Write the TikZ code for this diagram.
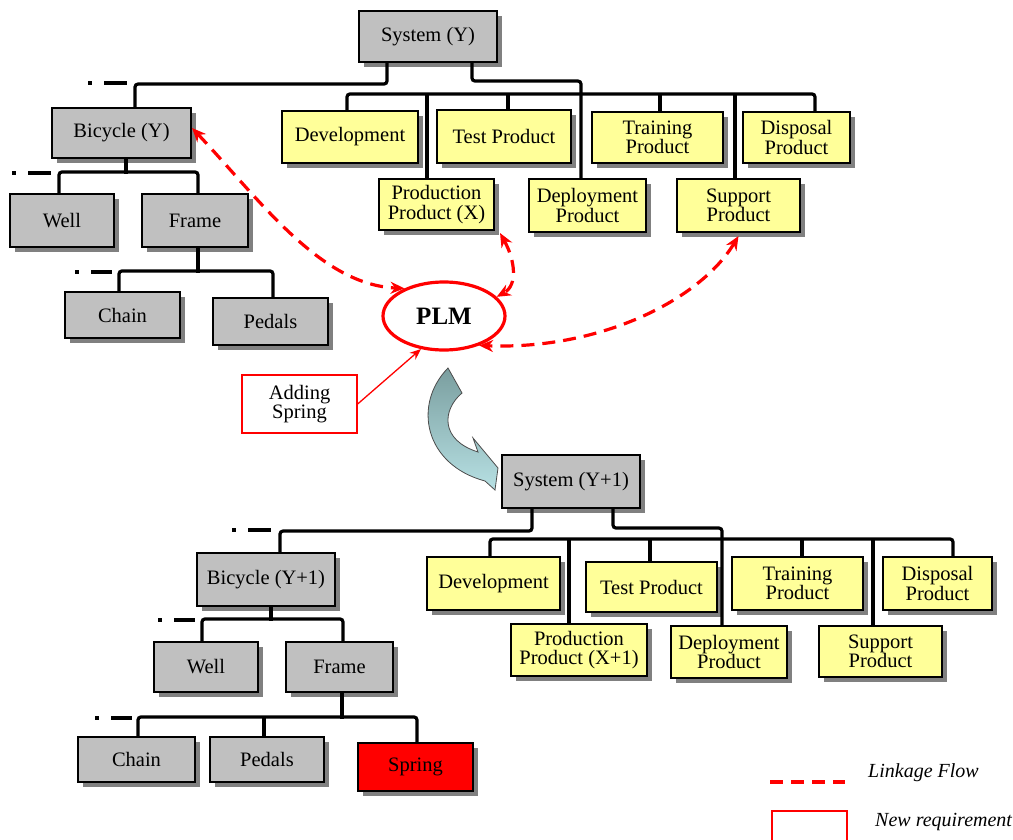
\documentclass[tikz,border=0pt]{standalone}
\usepackage{fontspec}
\setmainfont{Liberation Serif}
\usetikzlibrary{shapes.geometric,arrows.meta,shadows}
\definecolor{gfill}{HTML}{C0C0C0}
\definecolor{yfill}{HTML}{FFFF99}
\definecolor{arrdark}{HTML}{7A9E9F}
\definecolor{arrlight}{HTML}{B7E0E3}
\begin{document}
\begin{tikzpicture}[x=1pt,y=-1pt,
  wh/.style 2 args={minimum width=#1pt,minimum height=#2pt},
  base/.style={draw=black, line width=2.1pt, inner sep=0pt, align=center,
    font=\fontsize{20.5}{19.5}\selectfont,
    drop shadow={shadow xshift=5pt, shadow yshift=-5pt, fill=black!50, opacity=1}},
  gbox/.style={base, fill=gfill},
  ybox/.style={base, fill=yfill},
  rbox/.style={base, fill=red},
  conn/.style={line width=3.2pt, rounded corners=3pt},
  stub/.style={line width=3.2pt, dash pattern=on 4pt off 12pt on 23pt off 300pt},
  link/.style={red, line width=3.2pt, dash pattern=on 13pt off 8pt},
  tips/.style={{Stealth[length=14pt,width=12pt]}-{Stealth[length=14pt,width=12pt]}},
]
\useasboundingbox (0,0) rectangle (1013,840);

% ---------------- top tree ----------------
\node[gbox, wh={138}{51}] (sysY) at (428,36.5) {System (Y)};
\node[gbox, wh={139}{50}] (bicY) at (121.5,133) {Bicycle (Y)};
\node[gbox, wh={104}{53}] (wellY) at (62,220.5) {Well};
\node[gbox, wh={106}{53}] (frameY) at (195,220.5) {Frame};
\node[gbox, wh={115}{46}] (chainY) at (122.5,315) {Chain};
\node[gbox, wh={115}{47}] (pedalsY) at (270.5,321.5) {Pedals};
\node[ybox, wh={136}{52}] (devY) at (350,137) {Development};
\node[ybox, wh={134}{53}] (testY) at (504,136.5) {Test Product};
\node[ybox, wh={131}{51}] (trainY) at (657.5,137.5) {Training\\Product};
\node[ybox, wh={107}{51}] (dispY) at (796.5,137.5) {Disposal\\Product};
\node[ybox, wh={115}{51}] (prodY) at (436.5,204.5) {Production\\Product (X)};
\node[ybox, wh={117}{53}] (deplY) at (587.5,205.5) {Deployment\\Product};
\node[ybox, wh={123}{53}] (suppY) at (738.5,205.5) {Support\\Product};

\draw[stub] (88,83) -- (130,83);
\draw[conn] ([xshift=-41pt]sysY.south) -- ++(0,21) -| ([xshift=13.5pt]bicY.north);
\draw[conn] ([xshift=44pt]sysY.south) -- ++(0,18) -| ([xshift=-6.5pt]deplY.north);
\draw[conn] ([xshift=-3pt]devY.north) -- ++(0,-16) -| ([xshift=18.5pt]dispY.north);
\draw[conn] ([xshift=-9.5pt]prodY.north) -- ++(0,-84);
\draw[conn] ([xshift=4pt]testY.north) -- ++(0,-15);
\draw[conn] ([xshift=2.5pt]trainY.north) -- ++(0,-17);
\draw[conn] ([xshift=-3.5pt]suppY.north) -- ++(0,-84);

\draw[stub] (12,173) -- (52,173);
\draw[conn] ([xshift=4.5pt]bicY.south) -- ++(0,15);
\draw[conn] ([xshift=-3pt]wellY.north) -- ++(0,-21) -| ([xshift=3pt]frameY.north);

\draw[stub] (75,272) -- (112,272);
\draw[conn] ([xshift=3pt]frameY.south) -- ++(0,25);
\draw[conn] ([xshift=-3.5pt]chainY.north) -- ++(0,-20) -| ([xshift=2.5pt]pedalsY.north);

% ---------------- PLM ----------------
\node[ellipse, draw=red, line width=3.2pt, wh={122}{68}, inner sep=0pt,
  font=\fontsize{25}{25}\selectfont\bfseries] (plm) at (444,316) {PLM};
\node[draw=red, line width=1.3pt, fill=white, wh={115}{58}, inner sep=0pt, align=center,
  font=\fontsize{20.5}{19.5}\selectfont] (addS) at (299.5,404) {Adding\\Spring};
\draw[red, line width=1.3pt, -{Stealth[length=11pt,width=9pt]}] (addS.east) -- (plm.235);

\draw[link, tips] ([yshift=5pt]bicY.east) .. controls (260,200) and (320,285) .. (plm.145);
\draw[link, tips] ([xshift=5pt,yshift=-2pt]prodY.south east) .. controls (515,260) and (518,285) .. (plm.20);
\draw[link, tips] ([yshift=-3pt]suppY.south) .. controls (700,300) and (600,350) .. (plm.-40);

% ---------------- curved block arrow ----------------
\shade[top color=arrdark, bottom color=arrlight, draw=black!70, line width=0.8pt]
  (448,368) -- (462,393) .. controls (442,410) and (440,440) .. (478,452)
  -- (473,438) -- (498,468) -- (495,490) -- (485,481)
  .. controls (425,465) and (412,405) .. cycle;

% ---------------- bottom tree ----------------
\node[gbox, wh={138}{53}] (sysY1) at (571,481.5) {System (Y+1)};
\node[gbox, wh={138}{53}] (bicY1) at (266,579.5) {Bicycle (Y+1)};
\node[gbox, wh={104}{50}] (wellY1) at (206,667) {Well};
\node[gbox, wh={107}{50}] (frameY1) at (339.5,667) {Frame};
\node[gbox, wh={117}{45}] (chainY1) at (136.5,759.5) {Chain};
\node[gbox, wh={114}{45}] (pedalsY1) at (267,759.5) {Pedals};
\node[rbox, wh={115}{48}] (springY1) at (415.5,767) {Spring};
\node[ybox, wh={133}{53}] (devY1) at (493.5,583.5) {Development};
\node[ybox, wh={131}{50}] (testY1) at (651.5,587) {Test Product};
\node[ybox, wh={131}{53}] (trainY1) at (797.5,583.5) {Training\\Product};
\node[ybox, wh={109}{53}] (dispY1) at (937.5,583.5) {Disposal\\Product};
\node[ybox, wh={136}{52}] (prodY1) at (579,650) {Production\\Product (X+1)};
\node[ybox, wh={116}{52}] (deplY1) at (729,652) {Deployment\\Product};
\node[ybox, wh={123}{51}] (suppY1) at (880.5,651.5) {Support\\Product};

\draw[stub] (232,530) -- (272,530);
\draw[conn] ([xshift=-39pt]sysY1.south) -- ++(0,22) -| ([xshift=14pt]bicY1.north);
\draw[conn] ([xshift=42pt]sysY1.south) -- ++(0,19) -| ([xshift=-7pt]deplY1.north);
\draw[conn] ([xshift=-3.5pt]devY1.north) -- ++(0,-17) -| ([xshift=15.5pt]dispY1.north);
\draw[conn] ([xshift=-10pt]prodY1.north) -- ++(0,-84);
\draw[conn] ([xshift=-1.5pt]testY1.north) -- ++(0,-22);
\draw[conn] ([xshift=4.5pt]trainY1.north) -- ++(0,-17);
\draw[conn] ([xshift=-7.5pt]suppY1.north) -- ++(0,-86);

\draw[stub] (158,620) -- (195,620);
\draw[conn] ([xshift=5pt]bicY1.south) -- ++(0,14);
\draw[conn] ([xshift=-4pt]wellY1.north) -- ++(0,-22) -| ([xshift=3.5pt]frameY1.north);

\draw[stub] (95,718) -- (132,718);
\draw[conn] ([xshift=2.5pt]frameY1.south) -- ++(0,26);
\draw[conn] ([xshift=1.5pt]chainY1.north) -- ++(0,-19) -| ([xshift=1.5pt]springY1.north);
\draw[conn] ([xshift=-3pt]pedalsY1.north) -- ++(0,-19);

% ---------------- legend ----------------
\coordinate (lgA) at (770,782);
\coordinate (lgB) at (845,782);
\draw[link] (lgA) -- (lgB);
\node[anchor=west, inner sep=0pt, font=\fontsize{20}{20}\selectfont\itshape] (lgT1) at (868,773) {Linkage Flow};
\node[draw=red, line width=1.5pt, wh={75}{31}, inner sep=0pt] (lgBox) at (809.5,826.5) {};
\node[anchor=west, inner sep=0pt, font=\fontsize{20}{20}\selectfont\itshape] (lgT2) at (875,822) {New requirement};
\end{tikzpicture}
\end{document}
